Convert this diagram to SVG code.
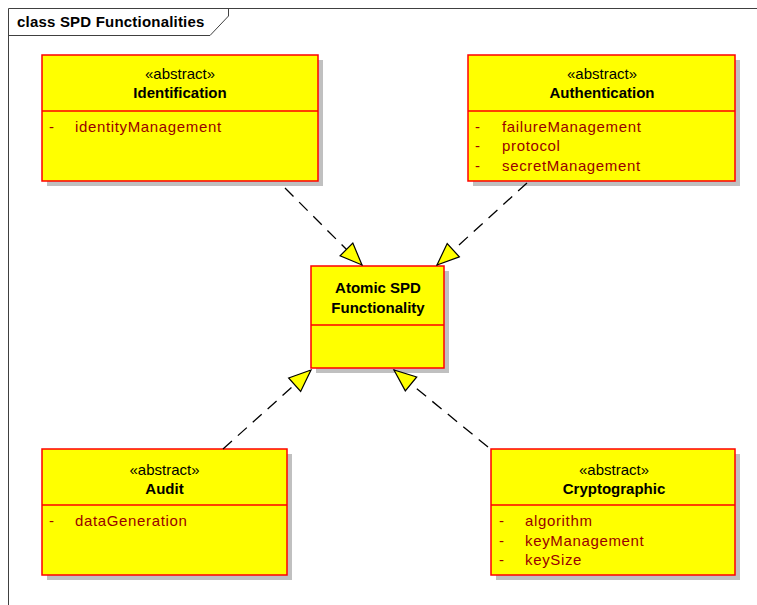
<svg xmlns="http://www.w3.org/2000/svg" width="757" height="605" viewBox="0 0 757 605">
  <style>
    .frame { fill: none; stroke: #404040; stroke-width: 1; }
    .title { font-family: "Liberation Sans", Arial, sans-serif; font-size: 15px; font-weight: bold; fill: #000; letter-spacing: 0.2px; }
    .shadow { fill: #C0C0C0; }
    .box { fill: #FFFF00; stroke: #FF0000; stroke-width: 1.5; }
    .sep { stroke: #FF0000; stroke-width: 1.5; }
    .stereo { font-family: "Liberation Sans", Arial, sans-serif; font-size: 15px; fill: #000; text-anchor: middle; }
    .name { font-family: "Liberation Sans", Arial, sans-serif; font-size: 15px; font-weight: bold; fill: #000; text-anchor: middle; }
    .attr { font-family: "Liberation Sans", Arial, sans-serif; font-size: 15px; fill: #990000; letter-spacing: 0.65px; }
    .dep { fill: none; stroke: #000; stroke-width: 1.3; stroke-dasharray: 12 8; marker-end: url(#realize); }
  </style>
  <defs>
    <marker id="realize" markerUnits="userSpaceOnUse" viewBox="0 0 22 18" refX="22" refY="9" markerWidth="22" markerHeight="18" orient="auto" overflow="visible">
      <path d="M0,0 L22,9 L0,18 Z" fill="#FFFF00" stroke="#000" stroke-width="1.2" stroke-linejoin="miter"/>
    </marker>
  </defs>

  <rect width="757" height="605" fill="#FFFFFF"/>

  <!-- diagram frame with title tab -->
  <g id="frame">
    <path class="frame" d="M8.5,605 L8.5,8.5 L757,8.5"/>
    <path class="frame" d="M8.5,35.5 L210,35.5 L228.5,16 L228.5,8.5"/>
    <text class="title" x="17" y="27">class SPD Functionalities</text>
  </g>

  <!-- class nodes -->
  <g id="identification">
    <rect class="shadow" x="47" y="60" width="276" height="126"/>
    <rect class="box" x="42" y="55" width="276" height="126"/>
    <line class="sep" x1="42" y1="111" x2="318" y2="111"/>
    <text class="stereo" x="180" y="79">«abstract»</text>
    <text class="name" x="180" y="98">Identification</text>
    <text class="attr" x="49" y="132">-</text>
    <text class="attr" x="75" y="132">identityManagement</text>
  </g>

  <g id="authentication">
    <rect class="shadow" x="473" y="60" width="267" height="126"/>
    <rect class="box" x="468" y="55" width="267" height="126"/>
    <line class="sep" x1="468" y1="111" x2="735" y2="111"/>
    <text class="stereo" x="602" y="79">«abstract»</text>
    <text class="name" x="602" y="98">Authentication</text>
    <text class="attr" x="475" y="132">-</text>
    <text class="attr" x="502" y="132">failureManagement</text>
    <text class="attr" x="475" y="151">-</text>
    <text class="attr" x="502" y="151">protocol</text>
    <text class="attr" x="475" y="171">-</text>
    <text class="attr" x="502" y="171">secretManagement</text>
  </g>

  <g id="atomic">
    <rect class="shadow" x="316" y="271" width="133" height="102"/>
    <rect class="box" x="311" y="266" width="133" height="102"/>
    <line class="sep" x1="311" y1="325" x2="444" y2="325"/>
    <text class="name" x="378" y="293">Atomic SPD</text>
    <text class="name" x="378" y="313">Functionality</text>
  </g>

  <g id="audit">
    <rect class="shadow" x="47" y="454" width="245" height="126"/>
    <rect class="box" x="42" y="449" width="245" height="126"/>
    <line class="sep" x1="42" y1="505" x2="287" y2="505"/>
    <text class="stereo" x="164.5" y="475">«abstract»</text>
    <text class="name" x="164.5" y="494">Audit</text>
    <text class="attr" x="49" y="526">-</text>
    <text class="attr" x="75" y="526">dataGeneration</text>
  </g>

  <g id="cryptographic">
    <rect class="shadow" x="496" y="454" width="244" height="126"/>
    <rect class="box" x="491" y="449" width="244" height="126"/>
    <line class="sep" x1="491" y1="505" x2="735" y2="505"/>
    <text class="stereo" x="614" y="475">«abstract»</text>
    <text class="name" x="614" y="494">Cryptographic</text>
    <text class="attr" x="499" y="526">-</text>
    <text class="attr" x="525" y="526">algorithm</text>
    <text class="attr" x="499" y="546">-</text>
    <text class="attr" x="525" y="546">keyManagement</text>
    <text class="attr" x="499" y="565">-</text>
    <text class="attr" x="525" y="565">keySize</text>
  </g>

  <!-- realization connectors -->
  <g id="connectors">
    <line class="dep" x1="285" y1="188" x2="362" y2="265"/>
    <line class="dep" x1="527" y1="183" x2="437" y2="265"/>
    <line class="dep" x1="223" y1="449" x2="311" y2="370"/>
    <line class="dep" x1="488" y1="447" x2="394" y2="370"/>
  </g>
</svg>
